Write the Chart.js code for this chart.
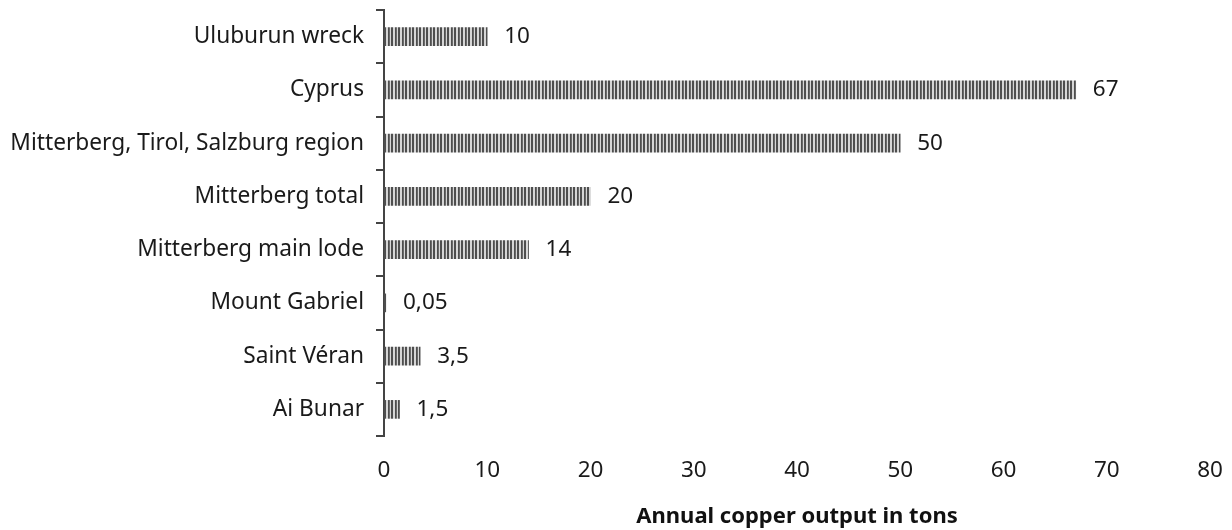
<!DOCTYPE html>
<html>
<head>
<meta charset="utf-8">
<script src="https://cdn.jsdelivr.net/npm/chart.js@4"></script>
<style>
html,body{margin:0;padding:0;background:#fff;}
#wrap{width:1232px;height:530px;}
</style>
</head>
<body>
<div id="wrap"><canvas id="c" width="1232" height="530"></canvas></div>
<script>
const categories = ["Uluburun wreck","Cyprus","Mitterberg, Tirol, Salzburg region","Mitterberg total","Mitterberg main lode","Mount Gabriel","Saint Véran","Ai Bunar"];
const outputTons = [10, 67, 50, 20, 14, 0.05, 3.5, 1.5];
const valueLabels = ["10","67","50","20","14","0,05","3,5","1,5"];
const xTicks = [0,10,20,30,40,50,60,70,80];

function stripePattern(){
  const p = document.createElement('canvas');
  p.width = 7; p.height = 4;
  const g = p.getContext('2d');
  const D = '#4e4e4e', M = '#6a6a6a', L = '#d6d6d6';
  const cols = [D, D, L, L, D, M, L];
  cols.forEach((c,i)=>{g.fillStyle=c; g.fillRect(i,0,1,4);});
  const pat = document.getElementById('c').getContext('2d').createPattern(p,'repeat');
  if (pat.setTransform) pat.setTransform(new DOMMatrix().translate(384,0));
  return pat;
}

const valueLabelPlugin = {
  id:'valueLabels',
  afterDatasetsDraw(chart){
    const ctx = chart.ctx;
    const meta = chart.getDatasetMeta(0);
    ctx.save();
    ctx.font = '22.5px "Noto Sans"';
    ctx.fillStyle = '#1a1a1a';
    ctx.textAlign = 'left';
    ctx.textBaseline = 'middle';
    meta.data.forEach((bar,i)=>{
      ctx.fillText(valueLabels[i], bar.x + 17, bar.y);
    });
    ctx.restore();
  }
};

Chart.defaults.font.family = '"Noto Sans", sans-serif';
Chart.defaults.color = '#1a1a1a';

new Chart(document.getElementById('c'), {
  type:'bar',
  data:{
    labels: categories,
    datasets:[{
      data: outputTons,
      backgroundColor: stripePattern(),
      borderWidth:0,
      barThickness:18,
      minBarLength:2
    }]
  },
  options:{
    indexAxis:'y',
    responsive:false,
    animation:false,
    layout:{padding:{top:10,right:22,bottom:0,left:0}},
    plugins:{legend:{display:false},tooltip:{enabled:false}},
    scales:{
      x:{
        min:0,max:80,
        afterBuildTicks(s){ s.ticks = xTicks.map(v=>({value:v})); },
        grid:{display:false,drawTicks:false},
        border:{display:false},
        ticks:{font:{size:22.5},padding:21,color:'#1a1a1a'},
        title:{display:true,text:'Annual copper output in tons',font:{size:22,weight:'bold'},color:'#111',padding:{top:9,bottom:0}},
        afterFit(s){ s.height = 94; s.paddingLeft = 0; s.paddingRight = 0; }
      },
      y:{
        grid:{display:true,drawOnChartArea:false,drawTicks:true,tickLength:8,color:'#444',lineWidth:2,offset:true},
        border:{display:true,color:'#444',width:2},
        ticks:{font:{size:22.7},padding:12,color:'#1a1a1a'},
        afterFit(s){ s.width = 384; s.paddingTop = 0; s.paddingBottom = 0; }
      }
    }
  },
  plugins:[valueLabelPlugin]
});
</script>
</body>
</html>
